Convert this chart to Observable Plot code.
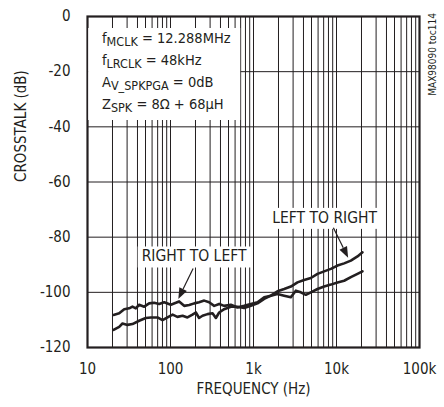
<!DOCTYPE html>
<html>
<head>
<meta charset="utf-8">
<script src="https://cdn.jsdelivr.net/npm/d3@7"></script>
<script src="https://cdn.jsdelivr.net/npm/@observablehq/plot@0.6"></script>
<style>
  html, body { margin: 0; padding: 0; background: #fff; }
  #chart svg { display: block; }
</style>
</head>
<body>
<div id="chart"></div>
<script>
// ---- data ----
const r2lFreq = [20.6, 24.1, 27.7, 31.8, 34.8, 38.2, 41.9, 48.2, 55.3, 63.6, 73.0, 83.9, 101, 116, 127, 146, 168, 193, 221, 255, 292, 336, 386, 443, 533, 641, 772, 929, 1117, 1345, 1618, 1946, 2340, 2818, 3236, 3715, 4273, 4909, 5902, 7096, 8551, 10280, 12360, 14890, 17900, 20560];
const r2lDb   = [-108.2, -107.6, -106.1, -105.8, -105.2, -105.8, -104.5, -105.2, -104.0, -103.8, -104.2, -103.6, -104.5, -103.8, -103.3, -104.9, -104.6, -104.0, -103.6, -103.0, -103.6, -104.9, -104.2, -104.9, -104.5, -105.5, -104.9, -104.2, -103.6, -101.8, -101.2, -100.6, -101.2, -101.8, -99.4, -100.0, -100.9, -100.0, -98.8, -97.9, -97.2, -96.4, -95.8, -94.5, -93.3, -92.4];
const l2rFreq = [20.6, 24.1, 26.4, 30.3, 34.8, 41.9, 50.4, 58.0, 69.7, 80.1, 92.1, 106, 121, 140, 160, 184, 202, 221, 243, 279, 321, 352, 386, 443, 533, 641, 772, 929, 1117, 1345, 1618, 1946, 2340, 2818, 3388, 4074, 4909, 5902, 7096, 8551, 10280, 12360, 14890, 17900, 20560];
const l2rDb   = [-113.6, -112.5, -111.3, -111.8, -111.5, -110.3, -109.3, -109.1, -109.1, -110.1, -109.1, -108.1, -108.9, -108.5, -109.1, -108.1, -107.3, -109.3, -108.5, -107.9, -107.6, -109.3, -107.3, -106.1, -105.2, -105.2, -105.7, -104.9, -104.0, -102.4, -101.2, -99.6, -98.8, -97.9, -96.4, -95.5, -94.8, -93.3, -92.4, -91.5, -90.3, -89.5, -88.5, -87.0, -85.5];

const xTicks = [10, 100, 1000, 10000, 100000];
const xTickLabels = ["10", "100", "1k", "10k", "100k"];
const yTicks = [0, -20, -40, -60, -80, -100, -120];
const xDomain = [10, 100000];
const yDomain = [-120, 0];

const seriesNames = ["RIGHT TO LEFT", "LEFT TO RIGHT"];
// label anchor (freq, dB) and arrow (from -> to) in data units
const labelFreq = [195, 7300];
const labelDb   = [-89.0, -75.0];
const arrowFromFreq = [190, 9300];
const arrowFromDb   = [-91.5, -76.8];
const arrowToFreq   = [126, 14000];
const arrowToDb     = [-102.6, -87.6];

const specLines = [
  ["f", "MCLK", " = 12.288MHz"],
  ["f", "LRCLK", " = 48kHz"],
  ["A", "V_SPKPGA", " = 0dB"],
  ["Z", "SPK", " = 8\u03A9 + 68\u00B5H"]
];
const sideNote = "MAX98090 toc114";

// ---- build ----
const r2l = r2lFreq.map((f, i) => ({f, db: r2lDb[i]}));
const l2r = l2rFreq.map((f, i) => ({f, db: l2rDb[i]}));
const gridX = [];
for (let d = 10; d < 100000; d *= 10) for (let k = 1; k < 10; k++) { const v = d * k; if (v > 10 && v < 100000) gridX.push(v); }
const gridY = yTicks.filter(v => v > -120 && v < 0);

const FONT = '"Liberation Sans Narrow", "DejaVu Sans Condensed", "Liberation Sans", sans-serif';
const INK = "#231f20";

const plot = Plot.plot({
  width: 444,
  height: 407,
  marginLeft: 87,
  marginRight: 25,
  marginTop: 16,
  marginBottom: 60,
  style: {fontFamily: FONT, fontSize: "15px", color: INK, background: "#fff"},
  x: {type: "log", domain: xDomain},
  y: {domain: yDomain},
  marks: [
    Plot.ruleX(gridX, {stroke: INK, strokeWidth: 1}),
    Plot.ruleY(gridY, {stroke: INK, strokeWidth: 1}),
    Plot.line(r2l, {x: "f", y: "db", stroke: INK, strokeWidth: 2.6}),
    Plot.line(l2r, {x: "f", y: "db", stroke: INK, strokeWidth: 2.6}),
    Plot.frame({stroke: INK, strokeWidth: 2.2}),
    Plot.axisX(xTicks, {tickSize: 0, tickPadding: 16, tickFormat: (d) => xTickLabels[xTicks.indexOf(d)],
      label: null, fontSize: 15}),
    Plot.axisY(yTicks, {tickSize: 0, tickPadding: 17, tickFormat: d => String(d), label: null, fontSize: 15}),
    Plot.text(["FREQUENCY (Hz)"], {frameAnchor: "bottom", dy: 46, fontSize: 15, fill: INK}),
    Plot.text(["CROSSTALK (dB)"], {frameAnchor: "left", dx: -66, rotate: -90, fontSize: 15, fill: INK})
  ]
});
document.getElementById("chart").appendChild(plot);

// ---- annotations ----
const svgSel = d3.select(plot);
const sxScale = plot.scale("x"), syScale = plot.scale("y");
const PX = v => sxScale.apply(v), PY = v => syScale.apply(v);
const pLeft = PX(xDomain[0]), pRight = PX(xDomain[1]), pTop = PY(yDomain[1]);

// spec box
const ann = svgSel.append("g").attr("font-family", FONT).attr("fill", INK).attr("text-anchor", "start");
ann.append("rect").attr("x", pLeft + 1.2).attr("y", pTop + 12).attr("width", 152).attr("height", 92).attr("fill", "#fff");
specLines.forEach((parts, i) => {
  const t = ann.append("text").attr("x", pLeft + 15).attr("y", pTop + 27 + i * 22).attr("font-size", 14.5);
  t.append("tspan").text(parts[0]);
  t.append("tspan").attr("dy", 3).attr("font-size", 12.5).text(parts[1]);
  t.append("tspan").attr("dy", -3).text(parts[2]);
});

// series labels with white boxes and arrows
seriesNames.forEach((name, i) => {
  const cx = PX(labelFreq[i]), cy = PY(labelDb[i]);
  const t = ann.append("text").attr("x", cx).attr("y", cy).attr("text-anchor", "middle")
    .attr("font-size", 15.5).text(name);
  const bb = t.node().getBBox();
  ann.insert("rect", () => t.node()).attr("x", bb.x - 4).attr("y", bb.y - 1)
    .attr("width", bb.width + 8).attr("height", bb.height + 3).attr("fill", "#fff");
  const x1 = PX(arrowFromFreq[i]), y1 = PY(arrowFromDb[i]);
  const x2 = PX(arrowToFreq[i]), y2 = PY(arrowToDb[i]);
  const ang = Math.atan2(y2 - y1, x2 - x1);
  const hl = 11, hw = 4.2;
  const bx = x2 - hl * Math.cos(ang), by = y2 - hl * Math.sin(ang);
  ann.append("line").attr("x1", x1).attr("y1", y1).attr("x2", bx).attr("y2", by)
    .attr("stroke", INK).attr("stroke-width", 1.2);
  const nx = -Math.sin(ang), ny = Math.cos(ang);
  ann.append("path").attr("d", `M${x2},${y2}L${bx + nx * hw},${by + ny * hw}L${bx - nx * hw},${by - ny * hw}Z`).attr("fill", INK);
});

// side note (reads bottom to top)
ann.append("text").attr("transform", `translate(${pRight + 17},${pTop - 3}) rotate(-90)`)
  .attr("font-size", 10).attr("text-anchor", "end").text(sideNote);
</script>
</body>
</html>
